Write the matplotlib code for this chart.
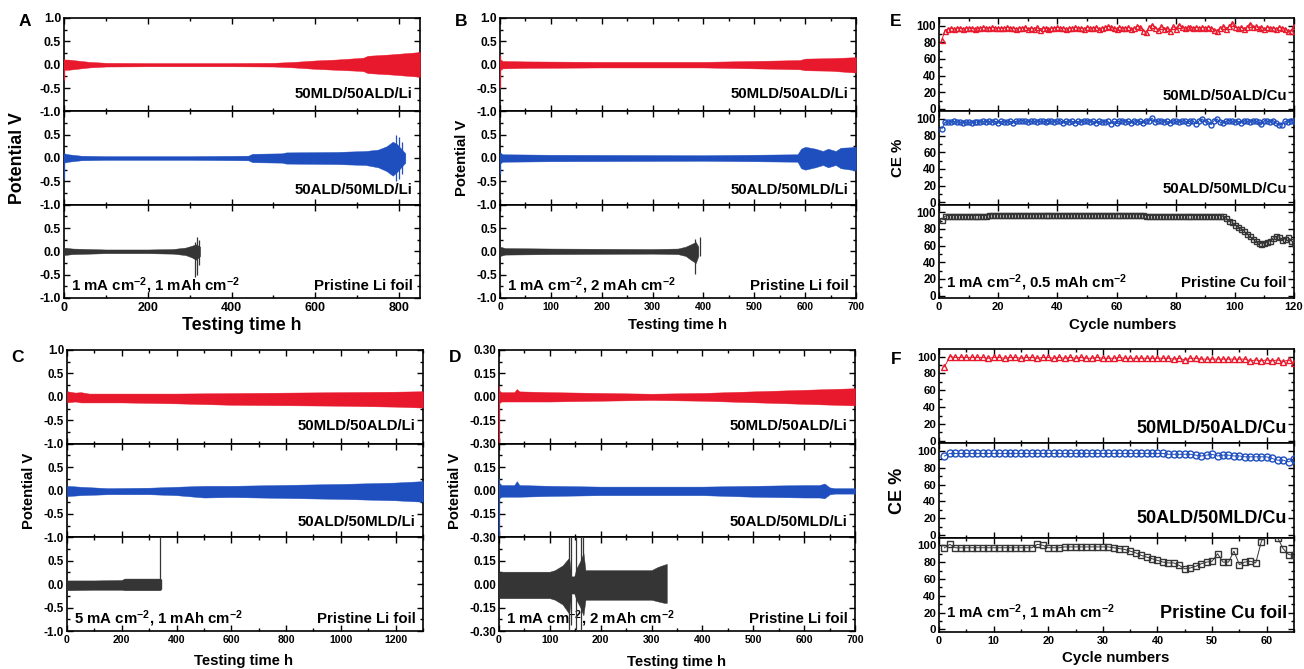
import matplotlib
matplotlib.use('Agg')
import matplotlib.pyplot as plt
from matplotlib.ticker import MultipleLocator
import numpy as np

plt.rcParams['font.family'] = 'Liberation Sans'
plt.rcParams['font.weight'] = 'bold'
plt.rcParams['axes.unicode_minus'] = False
plt.rcParams['mathtext.fontset'] = 'custom'
plt.rcParams['mathtext.rm'] = 'Liberation Sans:bold'
plt.rcParams['mathtext.bf'] = 'Liberation Sans:bold'
plt.rcParams['mathtext.default'] = 'bf'

W, H = 1304, 669
RED = '#e8192c'
BLUE = '#1f4fbf'
BLACK = '#353535'

# ---- voltage envelopes (time h, upper V, lower V) ----
# A: 1 mA cm-2, 1 mAh cm-2
a_red_t = [0, 2, 10, 30, 60, 100, 200, 300, 400, 500, 550, 600, 650, 700, 715, 725, 780, 850]
a_red_up = [0.12, 0.11, 0.11, 0.09, 0.06, 0.04, 0.035, 0.035, 0.035, 0.04, 0.06, 0.09, 0.11, 0.14, 0.15, 0.19, 0.22, 0.27]
a_red_lo = [-0.12, -0.11, -0.11, -0.09, -0.06, -0.04, -0.035, -0.035, -0.035, -0.04, -0.06, -0.09, -0.11, -0.13, -0.14, -0.18, -0.21, -0.26]
a_red_spk = [(0, -0.33, 0.12)]
a_blue_t = [0, 10, 40, 100, 300, 440, 450, 520, 530, 650, 720, 750, 770, 785, 795, 805, 815]
a_blue_up = [0.10, 0.08, 0.05, 0.04, 0.04, 0.05, 0.09, 0.10, 0.12, 0.13, 0.15, 0.18, 0.25, 0.35, 0.30, 0.20, 0.10]
a_blue_lo = [-0.10, -0.08, -0.05, -0.04, -0.04, -0.05, -0.09, -0.10, -0.12, -0.13, -0.15, -0.20, -0.28, -0.38, -0.30, -0.20, -0.10]
a_blue_spk = [(0, -0.45, 0.1), (792, -0.5, 0.5), (800, -0.45, 0.45), (808, -0.35, 0.35)]
a_blk_t = [0, 20, 100, 200, 260, 290, 305, 315, 325]
a_blk_up = [0.08, 0.06, 0.04, 0.04, 0.05, 0.08, 0.12, 0.15, 0.10]
a_blk_lo = [-0.08, -0.06, -0.04, -0.04, -0.05, -0.08, -0.13, -0.18, -0.10]
a_blk_spk = [(313, -0.55, 0.2), (318, -0.5, 0.3), (322, -0.3, 0.25)]

# B: 1 mA cm-2, 2 mAh cm-2
b_red_t = [0, 5, 50, 200, 400, 450, 500, 550, 590, 600, 650, 700]
b_red_up = [0.12, 0.08, 0.07, 0.06, 0.06, 0.07, 0.08, 0.09, 0.10, 0.13, 0.14, 0.16]
b_red_lo = [-0.12, -0.08, -0.07, -0.06, -0.06, -0.07, -0.08, -0.09, -0.10, -0.12, -0.13, -0.17]
b_red_spk = [(0, -0.5, 0.2)]
b_blue_t = [0, 5, 100, 400, 500, 585, 592, 600, 620, 635, 645, 660, 670, 690, 700]
b_blue_up = [0.12, 0.08, 0.07, 0.06, 0.07, 0.08, 0.20, 0.24, 0.20, 0.15, 0.20, 0.15, 0.22, 0.23, 0.25]
b_blue_lo = [-0.12, -0.08, -0.07, -0.06, -0.07, -0.08, -0.22, -0.25, -0.20, -0.15, -0.20, -0.15, -0.22, -0.25, -0.27]
b_blue_spk = [(0, -0.35, 0.1)]
b_blk_t = [0, 10, 100, 300, 350, 365, 375, 385, 390]
b_blk_up = [0.10, 0.07, 0.06, 0.05, 0.06, 0.10, 0.15, 0.20, 0.10]
b_blk_lo = [-0.10, -0.07, -0.06, -0.05, -0.06, -0.10, -0.18, -0.25, -0.10]
b_blk_spk = [(383, -0.48, 0.26), (394, -0.1, 0.3)]

# C: 5 mA cm-2, 1 mAh cm-2
c_red_t = [0, 30, 50, 80, 200, 400, 600, 800, 1000, 1200, 1300]
c_red_up = [0.12, 0.09, 0.10, 0.07, 0.07, 0.07, 0.08, 0.09, 0.10, 0.11, 0.12]
c_red_lo = [-0.12, -0.10, -0.12, -0.12, -0.12, -0.14, -0.17, -0.18, -0.19, -0.21, -0.23]
c_red_spk = []
c_blue_t = [0, 50, 150, 300, 400, 500, 600, 800, 1000, 1200, 1300]
c_blue_up = [0.10, 0.08, 0.05, 0.06, 0.08, 0.10, 0.10, 0.12, 0.14, 0.17, 0.20]
c_blue_lo = [-0.12, -0.10, -0.08, -0.08, -0.10, -0.15, -0.14, -0.16, -0.18, -0.21, -0.24]
c_blue_spk = []
c_blk_t = [0, 100, 200, 210, 340, 345]
c_blk_up = [0.08, 0.08, 0.09, 0.12, 0.12, 0.10]
c_blk_lo = [-0.13, -0.12, -0.12, -0.13, -0.13, -0.10]
c_blk_spk = [(341, 0.0, 1.0)]

# D: 1 mA cm-2, 2 mAh cm-2
d_red_t = [0, 5, 30, 35, 40, 100, 200, 300, 400, 500, 600, 700]
d_red_up = [0.04, 0.03, 0.03, 0.05, 0.035, 0.03, 0.025, 0.02, 0.025, 0.035, 0.045, 0.055]
d_red_lo = [-0.04, -0.03, -0.03, -0.03, -0.03, -0.03, -0.025, -0.02, -0.025, -0.035, -0.045, -0.055]
d_red_spk = [(0, -0.3, 0.07)]
d_blue_t = [0, 5, 30, 35, 40, 100, 200, 300, 400, 500, 600, 630, 640, 650, 660, 700]
d_blue_up = [0.05, 0.035, 0.035, 0.06, 0.035, 0.03, 0.025, 0.025, 0.025, 0.03, 0.035, 0.035, 0.045, 0.02, 0.015, 0.015]
d_blue_lo = [-0.05, -0.04, -0.04, -0.04, -0.04, -0.035, -0.03, -0.03, -0.03, -0.04, -0.045, -0.045, -0.05, -0.025, -0.02, -0.02]
d_blue_spk = [(0, -0.3, 0.08)]
d_blk_t = [0, 100, 110, 125, 138, 142, 148, 152, 160, 166, 170, 200, 300, 312, 325, 330]
d_blk_up = [0.08, 0.08, 0.09, 0.12, 0.17, 0.05, 0.05, 0.10, 0.15, 0.20, 0.09, 0.09, 0.09, 0.11, 0.125, 0.13]
d_blk_lo = [-0.09, -0.09, -0.10, -0.13, -0.19, -0.06, -0.06, -0.10, -0.15, -0.20, -0.10, -0.10, -0.10, -0.11, -0.12, -0.12]
d_blk_spk = [(138, -0.3, 0.3), (141, -0.26, 0.3), (152, -0.3, 0.3), (162, -0.3, 0.3), (166, -0.1, 0.3)]

# ---- coulombic efficiency (%) ----
e_red = [83, 94, 96, 97, 96, 97, 97, 96, 97, 97,
         97, 96, 97, 97, 98, 97, 97, 98, 97, 97,
         97, 97, 98, 97, 97, 96, 97, 97, 98, 96,
         97, 96, 98, 95, 97, 97, 96, 97, 97, 98,
         97, 97, 96, 97, 97, 98, 97, 97, 96, 98,
         97, 97, 98, 96, 97, 98, 99, 98, 97, 96,
         98, 97, 97, 98, 96, 97, 99, 98, 94, 92,
         98, 101, 97, 95, 99, 96, 97, 93, 99, 96,
         101, 98, 97, 98, 98, 97, 98, 97, 98, 97,
         98, 97, 95, 94, 97, 99, 96, 99, 103, 98,
         97, 98, 96, 98, 102, 98, 99, 97, 98, 96,
         98, 97, 97, 96, 98, 97, 96, 93, 94, 100]
e_blue = [88, 96, 96, 96, 97, 96, 96, 95, 96, 96,
          95, 96, 96, 96, 97, 96, 97, 96, 97, 95,
          97, 96, 96, 97, 95, 97, 97, 98, 97, 96,
          97, 97, 96, 97, 97, 96, 97, 97, 96, 97,
          98, 95, 97, 96, 97, 95, 97, 96, 97, 98,
          96, 97, 95, 97, 96, 96, 97, 94, 97, 95,
          97, 98, 96, 97, 95, 98, 96, 97, 95, 98,
          97, 101, 96, 97, 98, 96, 97, 95, 98, 97,
          96, 97, 98, 95, 98, 97, 94, 98, 100, 96,
          97, 93, 98, 100, 96, 95, 97, 98, 97, 96,
          97, 95, 98, 97, 96, 98, 97, 96, 94, 98,
          97, 96, 98, 95, 93, 93, 97, 96, 98, 97]
e_blk = [91, 95, 96, 96, 96, 96, 96, 96, 96, 96,
         96, 96, 96, 96, 96, 96, 97, 97, 97, 97,
         97, 97, 97, 97, 97, 97, 97, 97, 97, 97,
         97, 97, 97, 97, 97, 97, 97, 97, 97, 97,
         97, 97, 97, 97, 97, 97, 97, 97, 97, 97,
         97, 97, 97, 97, 97, 97, 97, 97, 97, 97,
         97, 97, 97, 97, 97, 97, 97, 97, 97, 96,
         96, 96, 96, 96, 96, 96, 96, 96, 96, 96,
         96, 96, 96, 96, 96, 96, 96, 96, 96, 96,
         96, 96, 96, 96, 96, 95, 93, 90, 88, 85,
         82, 80, 78, 74, 71, 68, 65, 63, 62, 63,
         64, 66, 69, 71, 70, 67, 68, 70, 66, 63]

f_red = [88, 100, 99, 99, 99, 99, 99, 99, 98, 99,
         99, 98, 99, 99, 98, 99, 99, 98, 99, 99,
         98, 99, 98, 99, 98, 99, 98, 98, 99, 98,
         98, 98, 99, 98, 98, 98, 98, 98, 98, 98,
         98, 98, 97, 98, 96, 98, 98, 97, 97, 97,
         97, 97, 97, 97, 97, 97, 95, 96, 95, 96,
         95, 96, 94, 96, 92]
f_blue = [94, 97, 97, 97, 97, 97, 97, 97, 97, 97,
          97, 97, 97, 97, 97, 97, 97, 97, 97, 97,
          97, 97, 97, 97, 97, 97, 97, 97, 97, 97,
          97, 97, 97, 97, 97, 97, 97, 97, 97, 97,
          97, 96, 96, 96, 96, 96, 95, 94, 95, 96,
          94, 95, 95, 94, 94, 93, 93, 93, 93, 93,
          91, 89, 89, 87, 90]
f_blk = [97, 101, 97, 97, 97, 97, 97, 97, 97, 97,
         97, 97, 97, 97, 97, 97, 97, 101, 100, 97,
         97, 97, 98, 98, 98, 98, 98, 98, 98, 98,
         98, 97, 96, 95, 93, 91, 88, 86, 84, 82,
         80, 79, 79, 76, 72, 73, 75, 78, 80, 81,
         90, 80, 80, 93, 77, 80, 81, 79, 104, 118,
         125, 109, 96, 89, 88]


def px_axes(fig, l, t, r, b):
    return fig.add_axes([l / W, 1 - b / H, (r - l) / W, (b - t) / H])


def stack(fig, l, t, r, b):
    h = (b - t) / 3.0
    return [px_axes(fig, l, t + i * h, r, t + (i + 1) * h) for i in range(3)]


def style(ax, xmaj, xmin, ymin, xfs, yfs):
    ax.xaxis.set_major_locator(MultipleLocator(xmaj))
    ax.xaxis.set_minor_locator(MultipleLocator(xmin))
    ax.yaxis.set_minor_locator(MultipleLocator(ymin))
    ax.tick_params(which='both', direction='in', top=True, right=True, width=1.0)
    ax.tick_params(which='major', length=4)
    ax.tick_params(which='minor', length=2)
    ax.tick_params(axis='x', labelsize=xfs, pad=3)
    ax.tick_params(axis='y', labelsize=yfs, pad=2)
    for s in ax.spines.values():
        s.set_linewidth(1.2)
    for lab in ax.get_xticklabels() + ax.get_yticklabels():
        lab.set_fontweight('bold')


def band(ax, t, up, lo, color, spikes):
    ax.fill_between(t, lo, up, color=color, lw=0.3, zorder=3)
    for ts, s_lo, s_hi in spikes:
        ax.vlines(ts, s_lo, s_hi, color=color, lw=0.9, zorder=3)


def fig_text(fig, x, y, s, **kw):
    fig.text(x / W, 1 - y / H, s, fontweight='bold', **kw)


fig = plt.figure(figsize=(W / 100, H / 100), dpi=100)

voltage_panels = [
    # letter, box, xmax, xmaj, xmin, ylim, fmt, traces, cond, sizes, label pos, letter pos
    ('A', (64, 18, 420, 298), 850, 200, 100, 1.0, '%.1f',
     [(a_red_t, a_red_up, a_red_lo, a_red_spk),
      (a_blue_t, a_blue_up, a_blue_lo, a_blue_spk),
      (a_blk_t, a_blk_up, a_blk_lo, a_blk_spk)],
     '1 mA cm$^{-2}$, 1 mAh cm$^{-2}$', (9, 8.8, 12.8), (18, 242, 326), (25, 22)),
    ('B', (500, 18, 856, 298), 700, 100, 50, 1.0, '%.1f',
     [(b_red_t, b_red_up, b_red_lo, b_red_spk),
      (b_blue_t, b_blue_up, b_blue_lo, b_blue_spk),
      (b_blk_t, b_blk_up, b_blk_lo, b_blk_spk)],
     '1 mA cm$^{-2}$, 2 mAh cm$^{-2}$', (7.4, 8.6, 10.7), (462, 678, 325), (461, 22)),
    ('C', (67, 350, 423, 631), 1300, 200, 100, 1.0, '%.1f',
     [(c_red_t, c_red_up, c_red_lo, c_red_spk),
      (c_blue_t, c_blue_up, c_blue_lo, c_blue_spk),
      (c_blk_t, c_blk_up, c_blk_lo, c_blk_spk)],
     '5 mA cm$^{-2}$, 1 mAh cm$^{-2}$', (7.6, 8.4, 10.7), (29, 244, 661), (17, 358)),
    ('D', (499, 350, 855, 631), 700, 100, 50, 0.30, '%.2f',
     [(d_red_t, d_red_up, d_red_lo, d_red_spk),
      (d_blue_t, d_blue_up, d_blue_lo, d_blue_spk),
      (d_blk_t, d_blk_up, d_blk_lo, d_blk_spk)],
     '1 mA cm$^{-2}$, 2 mAh cm$^{-2}$', (7.6, 8.4, 10.7), (455, 677, 662), (455, 358)),
]

v_names = ['50MLD/50ALD/Li', '50ALD/50MLD/Li', 'Pristine Li foil']
colors = [RED, BLUE, BLACK]
name_y = [0.19, 0.16, 0.13]

for letter, box, xmax, xmaj, xmin, ylim, fmt, traces, cond, sizes, lab_pos, let_pos in voltage_panels:
    xfs, yfs, lfs = sizes
    axes = stack(fig, *box)
    yt = np.linspace(-ylim, ylim, 5)
    for i, ax in enumerate(axes):
        t, up, lo, spk = traces[i]
        band(ax, t, up, lo, colors[i], spk)
        ax.set_xlim(0, xmax)
        ax.set_ylim(-ylim, ylim)
        ax.set_yticks(yt)
        labs = [fmt % v for v in yt]
        if i > 0:
            labs[-1] = ''
        ax.set_yticklabels(labs)
        style(ax, xmaj, xmin, ylim / 4, xfs, yfs)
        if i < 2:
            ax.tick_params(axis='x', labelbottom=False)
        ax.text(0.98, name_y[i], v_names[i], transform=ax.transAxes, ha='right',
                va='center', fontsize=10.8, fontweight='bold', zorder=1)
    axes[2].text(0.02, name_y[2], cond, transform=axes[2].transAxes, ha='left',
                 va='center', fontsize=10.8, fontweight='bold', zorder=1)
    fig_text(fig, lab_pos[0], (box[1] + box[3]) / 2, 'Potential V', rotation=90,
             ha='center', va='center', fontsize=lfs)
    fig_text(fig, lab_pos[1], lab_pos[2], 'Testing time h', ha='center',
             va='center', fontsize=lfs)
    fig_text(fig, let_pos[0], let_pos[1], letter, ha='center', va='center',
             fontsize=12.5)

ce_panels = [
    ('E', (939, 18, 1294, 298), e_red, e_blue, e_blk, 120, 20, 10,
     '1 mA cm$^{-2}$, 0.5 mAh cm$^{-2}$', 10.8, 10.8, 3.6, [0.16, 0.17, 0.16],
     (898, 1123, 325), (896, 22), (8.0, 8.4), 10.8),
    ('F', (939, 349, 1294, 632), f_red, f_blue, f_blk, 65, 10, 5,
     '1 mA cm$^{-2}$, 1 mAh cm$^{-2}$', 13, 10.8, 5.0, [0.16, 0.2, 0.2],
     (897, 1116, 658), (896, 359), (7.8, 8.2), 13),
]

c_names = ['50MLD/50ALD/Cu', '50ALD/50MLD/Cu', 'Pristine Cu foil']
c_markers = ['^', 'o', 's']

for (letter, box, red, blue, blk, xmax, xmaj, xmin, cond, nfs, cfs, ms, ny,
     lab_pos, let_pos, tfs, yl_fs) in ce_panels:
    axes = stack(fig, *box)
    for i, (ax, vals) in enumerate(zip(axes, [red, blue, blk])):
        cyc = np.arange(1, len(vals) + 1)
        ax.plot(cyc, vals, color=colors[i], lw=0.7, marker=c_markers[i],
                ms=ms, mfc='none', mec=colors[i], mew=1.0, zorder=3)
        ax.set_xlim(0, xmax)
        ax.set_ylim(-3, 109)
        ax.set_yticks([0, 20, 40, 60, 80, 100])
        style(ax, xmaj, xmin, 10, tfs[0], tfs[1])
        if i < 2:
            ax.tick_params(axis='x', labelbottom=False)
        ax.text(0.98, ny[i], c_names[i], transform=ax.transAxes, ha='right',
                va='center', fontsize=nfs, fontweight='bold', zorder=1)
    axes[2].text(0.02, ny[2], cond, transform=axes[2].transAxes, ha='left',
                 va='center', fontsize=cfs, fontweight='bold', zorder=1)
    fig_text(fig, lab_pos[0], (box[1] + box[3]) / 2, 'CE %', rotation=90,
             ha='center', va='center', fontsize=yl_fs)
    fig_text(fig, lab_pos[1], lab_pos[2], 'Cycle numbers', ha='center',
             va='center', fontsize=10.8)
    fig_text(fig, let_pos[0], let_pos[1], letter, ha='center', va='center',
             fontsize=12.5)

fig.savefig('out.png', dpi=100)
